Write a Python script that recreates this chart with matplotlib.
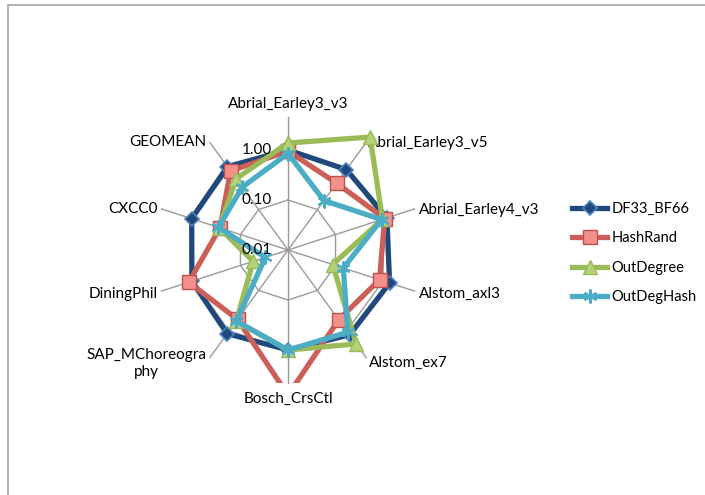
import numpy as np
import matplotlib
matplotlib.use("Agg")
import matplotlib.pyplot as plt
from matplotlib.patches import Rectangle
from matplotlib.lines import Line2D

plt.rcParams['font.family'] = ['Lato', 'DejaVu Sans']

categories = ['Abrial_Earley3_v3', 'Abrial_Earley3_v5', 'Abrial_Earley4_v3',
              'Alstom_axl3', 'Alstom_ex7', 'Bosch_CrsCtl',
              'SAP_MChoreogra\nphy', 'DiningPhil', 'CXCC0', 'GEOMEAN']

df33_bf66 = [1.00, 0.97, 1.20, 1.37, 1.25, 1.00, 1.17, 1.05, 1.06, 1.15]
hash_rand = [0.95, 0.45, 1.08, 0.84, 0.53, 8.0, 0.52, 1.22, 0.27, 0.90]
out_degree = [1.38, 6.2, 0.97, 0.087, 2.1, 1.00, 0.58, 0.054, 0.28, 0.58]
out_deg_hash = [0.85, 0.167, 0.93, 0.146, 1.08, 1.00, 0.57, 0.030, 0.29, 0.36]

series_names = ['DF33_BF66', 'HashRand', 'OutDegree', 'OutDegHash']
tick_values = [0.01, 0.1, 1.0]
tick_labels = ['0.01', '0.10', '1.00']

r_min, r_max = 0.01, 4.571

W, H, DPI = 705, 495, 100
fig = plt.figure(figsize=(W / DPI, H / DPI), dpi=DPI)

# chart-area border
fig.patches.append(Rectangle((8 / W, -0.1), 1.2, 1 - 5 / H + 0.1,
                             transform=fig.transFigure, fill=False,
                             edgecolor='#a6a6a6', linewidth=1.2))

cx, cy, rad = 288, 250, 133
ax = fig.add_axes([(cx - rad) / W, (H - cy - rad) / H, 2 * rad / W, 2 * rad / H],
                  projection='polar')
ax.set_theta_zero_location('N')
ax.set_theta_direction(-1)
ax.set_rscale('log')
ax.set_ylim(r_min, r_max)
ax.grid(False)
ax.set_xticks([])
ax.set_yticks([])
ax.spines['polar'].set_visible(False)
ax.patch.set_alpha(0)

n = len(categories)
theta = np.arange(n) * 2 * np.pi / n
theta_c = np.append(theta, theta[0])

grid_col = '#9a9a9a'
for th in theta:
    ax.plot([th, th], [r_min, r_max], color=grid_col, lw=1.0, zorder=1, clip_on=False)
for v in tick_values[1:]:
    ax.plot(theta_c, [v] * (n + 1), color=grid_col, lw=1.0, zorder=1)

styles = [
    dict(color='#1f497d', marker='D', ms=7.5, mfc='#1f497d', mec='#4f81bd', mew=1.2),
    dict(color='#cd5f59', marker='s', ms=10.5, mfc='#f2918c', mec='#c0504d', mew=1.0),
    dict(color='#9bbb59', marker='^', ms=10.5, mfc='#b3d27a', mec='#9bbb59', mew=1.0),
    dict(color='#4bacc6', marker=(6, 2, 0), ms=10, mfc='#4bacc6', mec='#4bacc6', mew=1.6),
]
all_series = [df33_bf66, hash_rand, out_degree, out_deg_hash]

# series are clipped to the square plot area rather than the circle
plot_area = Rectangle((0, 0), 1, 1, transform=ax.transAxes)

handles = []
for i, (name, vals, st) in enumerate(zip(series_names, all_series, styles)):
    vals_c = np.append(vals, vals[0])
    line, = ax.plot(theta_c, vals_c, lw=3.8, solid_joinstyle='miter',
                    zorder=3 + i, **st)
    line.set_clip_path(plot_area)
    handles.append(Line2D([], [], lw=3.8, **st))

# category labels at the spoke ends
px = 72.0 / DPI
label_pos = [
    ((0, 6), 'center', 'bottom'),
    ((2, -1), 'left', 'center'),
    ((4, -1), 'left', 'center'),
    ((4, -3), 'left', 'center'),
    ((3, -5), 'left', 'center'),
    ((0, -9), 'center', 'top'),
    ((-3, -6), 'right', 'center'),
    ((-4, -3), 'right', 'center'),
    ((-4, 0), 'right', 'center'),
    ((-3, 0), 'right', 'center'),
]
for th, lab, (off, ha, va) in zip(theta, categories, label_pos):
    ax.annotate(lab, xy=(th, r_max), xytext=(off[0] * px, off[1] * px),
                textcoords='offset points', ha=ha, va=va, fontsize=11,
                multialignment='center', annotation_clip=False, color='#000000')

for v, t in zip(tick_values, tick_labels):
    ax.annotate(t, xy=(0, v), xytext=(-16 * px, 0), textcoords='offset points',
                ha='right', va='center', fontsize=11, annotation_clip=False,
                zorder=10)

fig.legend(handles, series_names, loc='center left',
           bbox_to_anchor=(572 / W, 1 - 253 / H), frameon=False, fontsize=10.5,
           handlelength=2.4, handletextpad=0.3, labelspacing=1.05,
           borderaxespad=0, borderpad=0)

fig.savefig('out.png', dpi=DPI)
